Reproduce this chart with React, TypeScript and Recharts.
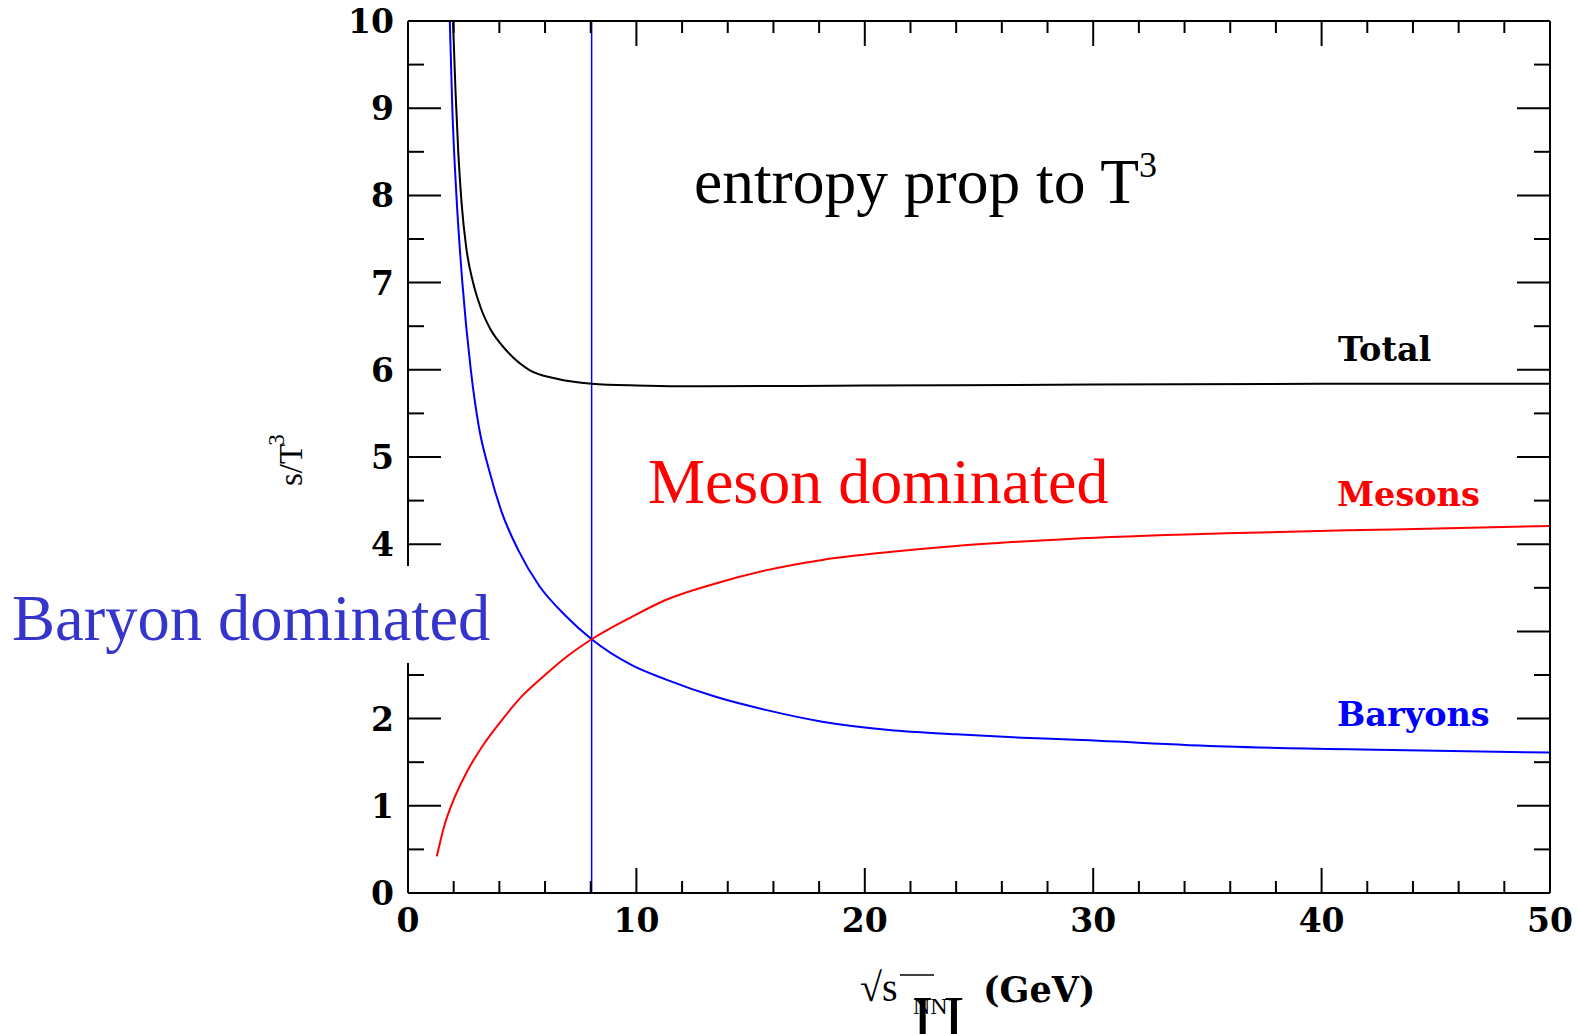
import { Line, LineChart, ReferenceLine, XAxis, YAxis } from "recharts"

// sqrt(s_NN) in GeV and s/T^3
const totalX = [1.97, 2.08, 2.2, 2.35, 2.55, 2.85, 3.2, 3.6, 4.28, 5.3, 6.47, 8.04, 10, 13, 20, 30, 40, 50]
const totalY = [10, 9.2, 8.5, 7.9, 7.4, 7.0, 6.7, 6.47, 6.23, 6.0, 5.9, 5.84, 5.82, 5.81, 5.82, 5.83, 5.84, 5.84]

const baryonX = [1.83, 1.94, 2.12, 2.38, 2.75, 3.1, 3.55, 4.1, 4.85, 5.75, 6.9, 8.04, 9.82, 11.28, 13.47, 15.66, 18.14, 21.07, 23.99, 26.9, 28.95, 35.8, 43.1, 50]
const baryonY = [10, 9, 8, 7, 6, 5.35, 4.85, 4.37, 3.92, 3.52, 3.18, 2.91, 2.61, 2.45, 2.25, 2.1, 1.965, 1.87, 1.82, 1.78, 1.76, 1.68, 1.64, 1.61]

const mesonX = [1.26, 1.6, 2.0, 2.6, 3.3, 4.1, 5.0, 6.0, 7.0, 8.04, 9.82, 11.28, 13.47, 15.66, 18.14, 21.07, 23.99, 26.9, 28.95, 35.8, 43.1, 50]
const mesonY = [0.42, 0.78, 1.07, 1.4, 1.7, 1.98, 2.26, 2.5, 2.72, 2.91, 3.17, 3.36, 3.55, 3.7, 3.82, 3.91, 3.98, 4.03, 4.06, 4.125, 4.17, 4.21]

const crossoverX = 8.04

const xTicks = [0, 2, 4, 6, 8, 10, 12, 14, 16, 18, 20, 22, 24, 26, 28, 30, 32, 34, 36, 38, 40, 42, 44, 46, 48, 50]
const yTicks = [0, 0.5, 1, 1.5, 2, 2.5, 3, 3.5, 4, 4.5, 5, 5.5, 6, 6.5, 7, 7.5, 8, 8.5, 9, 9.5, 10]
// the "3" label sits under the "Baryon dominated" box in the original
const hiddenYLabels = [3]

const toPoints = (xs: number[], ys: number[]) => xs.map((x, i) => ({ x, y: ys[i] }))

const totalData = toPoints(totalX, totalY)
const baryonData = toPoints(baryonX, baryonY)
const mesonData = toPoints(mesonX, mesonY)

const tickFont = { fontFamily: "DejaVu Serif", fontWeight: 700, fontSize: 33, fill: "#000" }
const serif = "Liberation Serif"
const frame = { stroke: "#000", strokeWidth: 2 }

const isMajorX = (v: number) => v % 10 === 0
const isMajorY = (v: number) => Number.isInteger(v)

function BottomTick(p: any) {
  const v = p.payload.value
  const major = isMajorX(v)
  return (
    <g>
      <line x1={p.x} x2={p.x} y1={p.y} y2={p.y - (major ? 25 : 12)} stroke="#000" strokeWidth={2} />
      {major && (
        <text x={p.x} y={p.y + 39} textAnchor="middle" {...tickFont}>
          {v}
        </text>
      )}
    </g>
  )
}

function TopTick(p: any) {
  const major = isMajorX(p.payload.value)
  return <line x1={p.x} x2={p.x} y1={p.y} y2={p.y + (major ? 25 : 12)} stroke="#000" strokeWidth={2} />
}

function LeftTick(p: any) {
  const v = p.payload.value
  const major = isMajorY(v)
  return (
    <g>
      <line x1={p.x} x2={p.x + (major ? 33 : 16)} y1={p.y} y2={p.y} stroke="#000" strokeWidth={2} />
      {major && !hiddenYLabels.includes(v) && (
        <text x={p.x - 14} y={p.y + 12} textAnchor="end" {...tickFont}>
          {v}
        </text>
      )}
    </g>
  )
}

function RightTick(p: any) {
  const major = isMajorY(p.payload.value)
  return <line x1={p.x} x2={p.x - (major ? 33 : 16)} y1={p.y} y2={p.y} stroke="#000" strokeWidth={2} />
}

function Annotations() {
  return (
    <svg
      width={1578}
      height={1034}
      style={{ position: "absolute", left: 0, top: 0, pointerEvents: "none" }}
    >
      <text x={694} y={203} fontFamily={serif} fontSize={63.5} fill="#000">
        entropy prop to T
        <tspan fontSize={36} dy={-26}>
          3
        </tspan>
      </text>
      <text x={648} y={503} fontFamily={serif} fontSize={64} fill="#ff0000">
        Meson dominated
      </text>

      <rect x={0} y={566} width={494} height={97} fill="#fff" />
      <text x={12} y={640} fontFamily={serif} fontSize={64.5} fill="#3535cc">
        Baryon dominated
      </text>

      <text x={1338} y={361} {...tickFont} fontSize={33.5}>
        Total
      </text>
      <text x={1337} y={506} {...tickFont} fontSize={33.5} fill="#ff0000">
        Mesons
      </text>
      <text x={1337} y={726} {...tickFont} fontSize={33.5} fill="#0000ff">
        Baryons
      </text>

      <text transform="translate(302 486) rotate(-90)" fontFamily={serif} fontSize={33} fill="#000">
        s/T
        <tspan fontSize={23} dy={-18} dx={-2}>
          3
        </tspan>
      </text>

      <text x={860} y={1001} fontFamily={serif} fontSize={40} fill="#000">
        √s
      </text>
      <line x1={900} x2={934} y1={975} y2={975} stroke="#000" strokeWidth={1.5} />
      <text x={912} y={1040} fontFamily={serif} fontSize={64} fill="#000" letterSpacing={10}>
        II
      </text>
      <text x={913} y={1014} fontFamily={serif} fontSize={24} fill="#000">
        NN
      </text>
      <text x={983} y={1002} {...tickFont} fontSize={35}>
        (GeV)
      </text>
    </svg>
  )
}

export default function App() {
  return (
    <div style={{ position: "fixed", left: 0, top: 0, width: 1578, height: 1034, background: "#fff" }}>
      <LineChart width={1578} height={1034} margin={{ top: 20, right: 27, bottom: 140, left: 407 }}>
        <XAxis
          xAxisId="bottom"
          dataKey="x"
          type="number"
          domain={[0, 50]}
          ticks={xTicks}
          interval={0}
          height={1}
          tickSize={0}
          tickMargin={0}
          tickLine={false}
          tick={BottomTick}
          axisLine={frame}
          allowDataOverflow
        />
        <XAxis
          xAxisId="top"
          orientation="top"
          dataKey="x"
          type="number"
          domain={[0, 50]}
          ticks={xTicks}
          interval={0}
          height={1}
          tickSize={0}
          tickMargin={0}
          tickLine={false}
          tick={TopTick}
          axisLine={frame}
          allowDataOverflow
        />
        <YAxis
          yAxisId="left"
          dataKey="y"
          type="number"
          domain={[0, 10]}
          ticks={yTicks}
          interval={0}
          width={1}
          tickSize={0}
          tickMargin={0}
          tickLine={false}
          tick={LeftTick}
          axisLine={frame}
          allowDataOverflow
        />
        <YAxis
          yAxisId="right"
          orientation="right"
          dataKey="y"
          type="number"
          domain={[0, 10]}
          ticks={yTicks}
          interval={0}
          width={1}
          tickSize={0}
          tickMargin={0}
          tickLine={false}
          tick={RightTick}
          axisLine={frame}
          allowDataOverflow
        />
        <ReferenceLine xAxisId="bottom" yAxisId="left" x={crossoverX} stroke="#0000ff" strokeWidth={1.5} />
        <Line
          xAxisId="bottom"
          yAxisId="left"
          data={totalData}
          dataKey="y"
          type="monotone"
          stroke="#000"
          strokeWidth={2}
          dot={false}
          isAnimationActive={false}
        />
        <Line
          xAxisId="bottom"
          yAxisId="left"
          data={baryonData}
          dataKey="y"
          type="monotone"
          stroke="#0000ff"
          strokeWidth={2}
          dot={false}
          isAnimationActive={false}
        />
        <Line
          xAxisId="bottom"
          yAxisId="left"
          data={mesonData}
          dataKey="y"
          type="monotone"
          stroke="#ff0000"
          strokeWidth={2}
          dot={false}
          isAnimationActive={false}
        />
      </LineChart>
      <Annotations />
    </div>
  )
}
